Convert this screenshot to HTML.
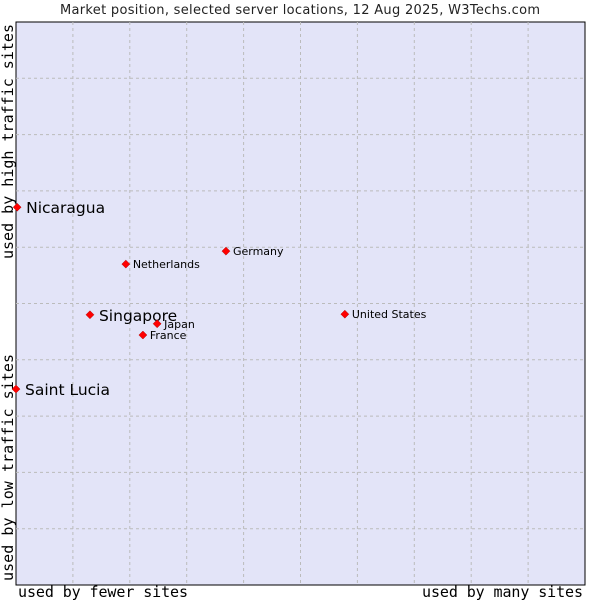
<!DOCTYPE html>
<html><head><meta charset="utf-8"><style>
body{margin:0;background:#fff;width:600px;height:600px;overflow:hidden}
svg text{font-family:"DejaVu Sans","Liberation Sans",sans-serif}
.mono{font-family:"DejaVu Sans Mono","Liberation Mono",monospace}
</style></head><body>
<svg id="chart" width="600" height="600">
<text x="300" y="14" text-anchor="middle" font-size="13" textLength="480" fill="#222">Market position, selected server locations, 12 Aug 2025, W3Techs.com</text>
<rect x="16" y="22" width="569" height="563" fill="#e3e4f8" stroke="#000" stroke-width="1"/>
<g id="grid"></g>
<text class="mono" x="18" y="597" font-size="15" textLength="170" fill="#000">used by fewer sites</text>
<text class="mono" x="422" y="597" font-size="15" textLength="161" fill="#000">used by many sites</text>
<text class="mono" transform="translate(13,581) rotate(-90)" font-size="15" textLength="227" fill="#000">used by low traffic sites</text>
<text class="mono" transform="translate(13,259) rotate(-90)" font-size="15" textLength="235" fill="#000">used by high traffic sites</text>
<g id="points"></g>
</svg>
<script>
const names=["Nicaragua","Saint Lucia","Singapore","Netherlands","Germany","Japan","France","United States"];
const xVals=[0.2,0,13.0,19.3,36.9,24.8,22.3,57.8];
const yVals=[67.1,34.8,48.0,57.0,59.3,46.4,44.4,48.1];
const big=[true,true,true,false,false,false,false,false];
const L=16,T=22,W=569,H=563;
const sx=v=>L+v/100*W, sy=v=>T+H-v/100*H;
const NS="http://www.w3.org/2000/svg";
const grid=document.getElementById('grid');
for(let i=1;i<10;i++){
  const gx=L+i*W/10, gy=T+i*H/10;
  const a=document.createElementNS(NS,'line');
  a.setAttribute('x1',gx);a.setAttribute('x2',gx);a.setAttribute('y1',T);a.setAttribute('y2',T+H);
  a.setAttribute('stroke','#bbb');a.setAttribute('stroke-dasharray','3,3');
  
  
  grid.appendChild(a);
  const b=document.createElementNS(NS,'line');
  b.setAttribute('y1',gy);b.setAttribute('y2',gy);b.setAttribute('x1',L);b.setAttribute('x2',L+W);
  b.setAttribute('stroke','#bbb');b.setAttribute('stroke-dasharray','3,3');
  
  
  grid.appendChild(b);
}
const pts=document.getElementById('points');
names.forEach((n,i)=>{
  const x=sx(xVals[i]),y=sy(yVals[i]);
  const d=document.createElementNS(NS,'path');
  d.setAttribute('d',`M${x-4},${y} L${x},${y-4} L${x+4},${y} L${x},${y+4} Z`);
  d.setAttribute('fill','#f00');d.setAttribute('stroke','#a00');d.setAttribute('stroke-width','0.5');
  
  
  pts.appendChild(d);
  const t=document.createElementNS(NS,'text');
  t.setAttribute('x',x+(big[i]?9:7));t.setAttribute('y',y+(big[i]?6:4));
  t.setAttribute('font-size',big[i]?15.5:11);t.setAttribute('fill','#000');
  t.textContent=n;
  
  
  pts.appendChild(t);
});
</script>
</body></html>
